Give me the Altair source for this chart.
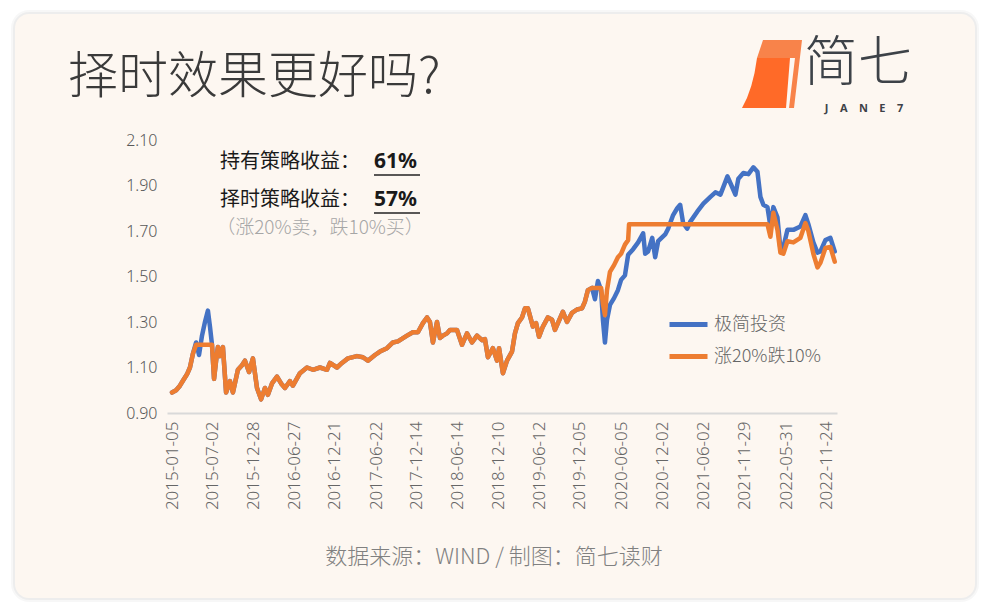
import altair as alt
import pandas as pd

# ---------------- data ----------------
dates = [
    "2015-01-05", "2015-01-23", "2015-02-09", "2015-02-24", "2015-03-12", "2015-03-25",
    "2015-04-07", "2015-04-21", "2015-05-04", "2015-05-17", "2015-05-30", "2015-06-12",
    "2015-06-21", "2015-06-30", "2015-07-09", "2015-07-18", "2015-07-26", "2015-08-04",
    "2015-08-17", "2015-08-31", "2015-09-17", "2015-09-30", "2015-10-22", "2015-11-09",
    "2015-11-22", "2015-12-10", "2015-12-27", "2016-01-14", "2016-02-01", "2016-02-18",
    "2016-03-02", "2016-03-20", "2016-04-11", "2016-04-29", "2016-05-16", "2016-06-07",
    "2016-06-20", "2016-07-21", "2016-08-21", "2016-09-16", "2016-10-17", "2016-11-17",
    "2016-11-30", "2016-12-31", "2017-01-22", "2017-02-17", "2017-03-29", "2017-04-24",
    "2017-05-16", "2017-06-16", "2017-07-08", "2017-08-08", "2017-09-03", "2017-09-25",
    "2017-11-04", "2017-11-30", "2017-12-22", "2018-01-13", "2018-01-31", "2018-02-13",
    "2018-02-26", "2018-03-16", "2018-03-29", "2018-04-11", "2018-04-29", "2018-05-12",
    "2018-06-12", "2018-07-04", "2018-07-26", "2018-08-17", "2018-09-08", "2018-09-30",
    "2018-10-13", "2018-10-26", "2018-11-17", "2018-12-05", "2018-12-14", "2018-12-31",
    "2019-01-18", "2019-02-09", "2019-02-22", "2019-03-07", "2019-03-25", "2019-04-07",
    "2019-04-20", "2019-05-12", "2019-05-26", "2019-06-08", "2019-06-25", "2019-07-17",
    "2019-08-04", "2019-08-17", "2019-08-30", "2019-09-21", "2019-10-09", "2019-10-31",
    "2019-11-22", "2019-12-14", "2019-12-27", "2020-01-09", "2020-01-27", "2020-02-09",
    "2020-02-22", "2020-03-07", "2020-03-15", "2020-03-24", "2020-04-02", "2020-04-15",
    "2020-05-03", "2020-05-20", "2020-06-03", "2020-06-20", "2020-07-04", "2020-07-08",
    "2020-07-26", "2020-08-17", "2020-09-08", "2020-09-17", "2020-09-30", "2020-10-18",
    "2020-10-31", "2020-11-13", "2020-12-14", "2020-12-27", "2021-01-18", "2021-02-05",
    "2021-02-18", "2021-03-03", "2021-03-21", "2021-04-03", "2021-05-04", "2021-05-31",
    "2021-07-01", "2021-07-23", "2021-08-14", "2021-09-14", "2021-10-06", "2021-10-19",
    "2021-11-01", "2021-11-23", "2021-12-15", "2022-01-06", "2022-01-24", "2022-02-06",
    "2022-02-19", "2022-03-09", "2022-03-22", "2022-04-04", "2022-04-22", "2022-05-05",
    "2022-05-18", "2022-06-05", "2022-07-01", "2022-08-01", "2022-08-23", "2022-09-05",
    "2022-09-27", "2022-10-15", "2022-10-28", "2022-11-19", "2022-12-11", "2022-12-30",
]

# 极简投资 (buy and hold)
jijian = [
    0.99, 1.00, 1.02, 1.045, 1.07, 1.10,
    1.16, 1.21, 1.155, 1.24, 1.30, 1.35,
    1.28, 1.20, 1.05, 1.13, 1.19, 1.15,
    1.19, 0.99, 1.04, 0.99, 1.09, 1.11,
    1.13, 1.08, 1.14, 1.01, 0.96, 1.01,
    0.98, 1.03, 1.06, 1.03, 1.01, 1.04,
    1.02, 1.075, 1.10, 1.09, 1.10, 1.09,
    1.12, 1.10, 1.12, 1.14, 1.15, 1.145,
    1.13, 1.155, 1.17, 1.185, 1.21, 1.215,
    1.24, 1.255, 1.255, 1.295, 1.32, 1.30,
    1.21, 1.30, 1.23, 1.24, 1.25, 1.265,
    1.265, 1.20, 1.25, 1.21, 1.24, 1.22,
    1.225, 1.145, 1.185, 1.13, 1.185, 1.075,
    1.13, 1.17, 1.25, 1.295, 1.32, 1.36,
    1.36, 1.28, 1.295, 1.235, 1.28, 1.32,
    1.31, 1.265, 1.295, 1.345, 1.30, 1.34,
    1.355, 1.36, 1.39, 1.44, 1.45, 1.40,
    1.48, 1.44, 1.31, 1.21, 1.31, 1.375,
    1.405, 1.44, 1.485, 1.505, 1.595, 1.60,
    1.62, 1.65, 1.69, 1.60, 1.61, 1.67,
    1.585, 1.655, 1.685, 1.71, 1.77, 1.80,
    1.815, 1.735, 1.71, 1.74, 1.785, 1.82,
    1.85, 1.87, 1.86, 1.94, 1.89, 1.86,
    1.93, 1.955, 1.95, 1.98, 1.96, 1.85,
    1.815, 1.805, 1.72, 1.805, 1.76, 1.62,
    1.63, 1.705, 1.705, 1.72, 1.77, 1.73,
    1.65, 1.605, 1.61, 1.66, 1.67, 1.61,
]

# 涨20%跌10% (timing strategy)
timing = [
    0.99, 1.00, 1.02, 1.045, 1.07, 1.10,
    1.16, 1.20, 1.20, 1.20, 1.20, 1.20,
    1.20, 1.20, 1.05, 1.13, 1.19, 1.15,
    1.19, 0.99, 1.04, 0.99, 1.09, 1.11,
    1.13, 1.08, 1.14, 1.01, 0.96, 1.01,
    0.98, 1.03, 1.06, 1.03, 1.01, 1.04,
    1.02, 1.075, 1.10, 1.09, 1.10, 1.09,
    1.12, 1.10, 1.12, 1.14, 1.15, 1.145,
    1.13, 1.155, 1.17, 1.185, 1.21, 1.215,
    1.24, 1.255, 1.255, 1.295, 1.32, 1.30,
    1.21, 1.30, 1.23, 1.24, 1.25, 1.265,
    1.265, 1.20, 1.25, 1.21, 1.24, 1.22,
    1.225, 1.145, 1.185, 1.13, 1.185, 1.075,
    1.13, 1.17, 1.25, 1.295, 1.32, 1.36,
    1.36, 1.28, 1.295, 1.235, 1.28, 1.32,
    1.31, 1.265, 1.295, 1.345, 1.30, 1.34,
    1.355, 1.36, 1.39, 1.44, 1.45, 1.45,
    1.45, 1.45, 1.38, 1.33, 1.44, 1.52,
    1.55, 1.585, 1.60, 1.64, 1.66, 1.73,
    1.73, 1.73, 1.73, 1.73, 1.73, 1.73,
    1.73, 1.73, 1.73, 1.73, 1.73, 1.73,
    1.73, 1.73, 1.73, 1.73, 1.73, 1.73,
    1.73, 1.73, 1.73, 1.73, 1.73, 1.73,
    1.73, 1.73, 1.73, 1.73, 1.73, 1.73,
    1.73, 1.73, 1.675, 1.78, 1.705, 1.605,
    1.60, 1.655, 1.65, 1.67, 1.735, 1.70,
    1.60, 1.54, 1.56, 1.625, 1.63, 1.565,
]

series_names = ["极简投资", "涨20%跌10%"]
series_colors = ["#4472C4", "#ED7D31"]
y_ticks = [0.9, 1.1, 1.3, 1.5, 1.7, 1.9, 2.1]
x_tick_dates = [
    "2015-01-05", "2015-07-02", "2015-12-28", "2016-06-27", "2016-12-21", "2017-06-22",
    "2017-12-14", "2018-06-14", "2018-12-10", "2019-06-12", "2019-12-05", "2020-06-05",
    "2020-12-02", "2021-06-02", "2021-11-29", "2022-05-31", "2022-11-24",
]
x_domain = ["2014-12-14", "2023-01-09"]

title_text = "择时效果更好吗?"
note1_label, note1_value = "持有策略收益：", "61%"
note2_label, note2_value = "择时策略收益：", "57%"
note3 = "（涨20%卖，跌10%买）"
footer_text = "数据来源：WIND / 制图：简七读财"
logo_text = "简七"
logo_sub = "\u00a0\u00a0\u00a0\u00a0".join(["J", "A", "N", "E", "7"])

# ---------------- build ----------------
CJK = "Noto Sans CJK SC"
LAT = "Noto Sans"


def dt(s):
    y, m, d = (int(p) for p in s.split("-"))
    return alt.DateTime(year=y, month=m, date=d, utc=True)


rows = []
for d, b, o in zip(dates, jijian, timing):
    rows.append({"date": d, "series": series_names[0], "value": b})
    rows.append({"date": d, "series": series_names[1], "value": o})
df = pd.DataFrame(rows)

one = pd.DataFrame({"k": [0]})


def rect(x, x2, y, y2, fill, opacity, radius):
    return alt.Chart(one).mark_rect(fill=fill, opacity=opacity, cornerRadius=radius).encode(
        x=alt.value(x), x2=alt.value(x2), y=alt.value(y), y2=alt.value(y2)
    )


def label(text, x, y, size, color, align="left", weight="normal", font=CJK, baseline="middle"):
    return alt.Chart(pd.DataFrame({"t": [text]})).mark_text(
        align=align, baseline=baseline, fontSize=size, color=color, font=font, fontWeight=weight
    ).encode(x=alt.value(x), y=alt.value(y), text="t:N")


def underline(x, x2, y):
    return alt.Chart(one).mark_rule(color="#222222", strokeWidth=1.6).encode(
        x=alt.value(x), x2=alt.value(x2), y=alt.value(y)
    )


def shape(path, x, y, color):
    return alt.Chart(one).mark_point(shape=path, size=4, filled=True, color=color, opacity=1, strokeWidth=0).encode(
        x=alt.value(x), y=alt.value(y)
    )


# card + soft shadow (plot origin at page (167,140))
shadow1 = rect(-156, 812, -130, 462, "#000000", 0.03, 18)
shadow2 = rect(-154, 810, -128, 460, "#000000", 0.04, 16)
card = rect(-152, 808, -126, 458, "#FDF7F1", 1, 14)

lines = alt.Chart(df).mark_line(strokeWidth=4.5, strokeJoin="round", strokeCap="round").encode(
    x=alt.X(
        "date:T",
        scale=alt.Scale(type="utc", domain=[dt(x_domain[0]), dt(x_domain[1])], nice=False),
        axis=alt.Axis(
            values=[dt(s) for s in x_tick_dates],
            labelExpr="utcFormat(datum.value, '%Y-%m-%d')",
            labelAngle=270,
            labelFontSize=17,
            labelColor="#666666",
            labelFont=LAT,
            labelFontWeight=300,
            labelPadding=8,
            ticks=False,
            grid=False,
            domainColor="#D9D9D9",
            domainWidth=2,
            title=None,
            labelOverlap=False,
            zindex=1,
        ),
    ),
    y=alt.Y(
        "value:Q",
        scale=alt.Scale(domain=[0.9, 2.1], nice=False, zero=False),
        axis=alt.Axis(
            values=y_ticks,
            format=".2f",
            labelFontSize=16,
            labelColor="#595959",
            labelFont=LAT,
            labelFontWeight=300,
            labelPadding=10,
            ticks=False,
            grid=False,
            domain=False,
            title=None,
            zindex=1,
        ),
    ),
    color=alt.Color(
        "series:N",
        scale=alt.Scale(domain=series_names, range=series_colors),
        legend=alt.Legend(
            orient="none",
            legendX=500,
            legendY=163,
            title=None,
            symbolType="stroke",
            symbolSize=1444,
            symbolStrokeWidth=5,
            labelFontSize=18,
            labelColor="#666666",
            labelFont=CJK,
            labelFontWeight=300,
            labelOffset=4,
            rowPadding=0,
            padding=0,
            zindex=1,
        ),
    ),
)

title = label(title_text, -99, -62, 50, "#3A3A3A", weight=300)
logo_back = shape("M -13 -16 L -7 -34 L 32 -34 L 24 34 L 19 34 L 25 -16 Z", 603, -66, "#F8834A")
logo_front = shape("M -13 -16 L 20 -16 L 16 34 L -28 34 Q -17 15 -13 -16 Z", 603, -66, "#FF6A28")
logo_main = label(logo_text, 637, -59, 54, "#3D4248", weight=300, baseline="alphabetic")
logo_small = label(logo_sub, 697, -28, 11, "#3D4248", align="center", weight="bold", font=LAT, baseline="alphabetic")

n1a = label(note1_label, 53, 22, 20, "#1A1A1A")
n1b = label(note1_value, 207, 22, 21, "#1A1A1A", weight="bold", font=LAT)
u1 = underline(207, 253, 35)
n2a = label(note2_label, 53, 60, 20, "#1A1A1A")
n2b = label(note2_value, 207, 60, 21, "#1A1A1A", weight="bold", font=LAT)
u2 = underline(207, 253, 73)
n3 = label(note3, 153, 88, 19, "#A6A6A6", align="center", weight=300)
footer = label(footer_text, 327, 417, 22, "#808080", align="center", weight=300)

chart = alt.layer(
    shadow1, shadow2, card, lines, title, logo_back, logo_front, logo_main, logo_small,
    n1a, n1b, u1, n2a, n2b, u2, n3, footer,
).properties(
    width=670,
    height=273,
    padding={"left": 167, "top": 140, "right": 154, "bottom": 199},
    autosize=alt.AutoSizeParams(type="none"),
    background="#FFFFFF",
).configure_view(stroke=None)

chart.save("out.html", embed_options={"renderer": "svg", "actions": False})
